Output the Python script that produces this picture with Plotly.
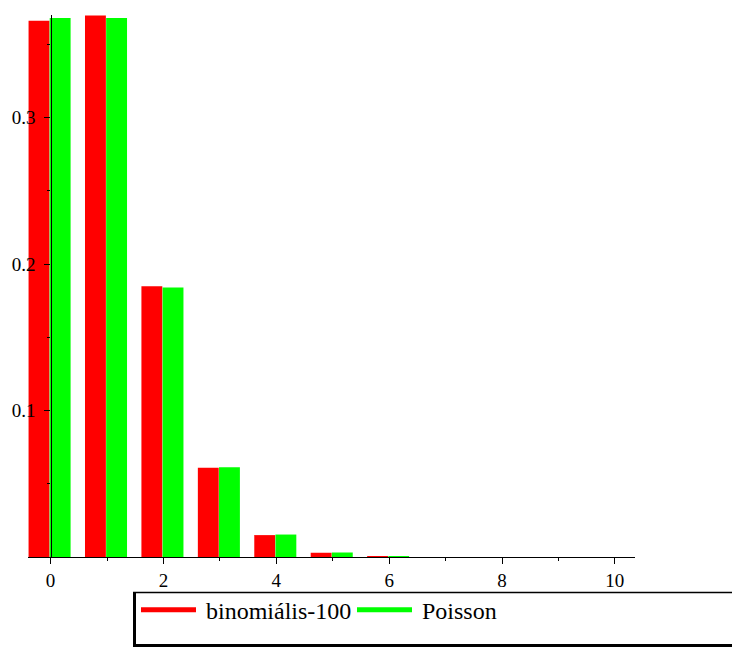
import plotly.graph_objects as go

# Probabilities of k successes: binomial (n=100, p=0.01) against Poisson (lambda=1)
k_values = [0, 1, 2, 3, 4, 5, 6, 7, 8, 9, 10]
binomial_100 = [0.36603, 0.36973, 0.18486, 0.06100, 0.01494, 0.00290,
                0.00046, 0, 0, 0, 0]
poisson = [0.36788, 0.36788, 0.18394, 0.06131, 0.01533, 0.00307,
           0.00051, 0, 0, 0, 0]
x_tick_vals = [0, 2, 4, 6, 8, 10]
y_tick_vals = [0.1, 0.2, 0.3]
y_tick_text = ["0.1", "0.2", "0.3"]
series_names = ["binomiális-100", "Poisson"]
series_colors = ["#ff0000", "#00ff00"]

W, H = 732, 648
L, R, T, B = 28, 97, 15, 91
PW, PH = W - L - R, H - T - B
X_RANGE = [-0.40, 10.357]
Y_RANGE = [0, 0.37]
SERIF = "Liberation Serif"


def fx(px):
    return (px - L) / PW


def fy(py):
    return 1 - (py - T) / PH


fig = go.Figure()
fig.add_trace(go.Bar(x=k_values, y=binomial_100, name=series_names[0],
                     marker=dict(color=series_colors[0], line=dict(width=0)),
                     offset=-0.39, width=0.37))
fig.add_trace(go.Bar(x=k_values, y=poisson, name=series_names[1],
                     marker=dict(color=series_colors[1], line=dict(width=0)),
                     offset=-0.015, width=0.37))

# y axis crosses the x axis at x = 0
y_axis_pos = (0 - X_RANGE[0]) / (X_RANGE[1] - X_RANGE[0])

fig.update_layout(
    width=W, height=H,
    margin=dict(l=L, r=R, t=T, b=B, pad=0),
    paper_bgcolor="white", plot_bgcolor="white",
    showlegend=False,
    barmode="overlay",
    font=dict(family=SERIF, size=19, color="black"),
    xaxis=dict(range=X_RANGE, tickvals=x_tick_vals, showgrid=False, zeroline=False,
               showline=True, linecolor="black", linewidth=1.3,
               ticks="outside", ticklen=6, tickwidth=1, tickcolor="black",
               minor=dict(dtick=1, tick0=1, ticks="outside", ticklen=3,
                          tickcolor="black", tickwidth=1),
               tickfont=dict(family=SERIF, size=19, color="black")),
    yaxis=dict(range=Y_RANGE, tickvals=y_tick_vals, ticktext=y_tick_text,
               anchor="free", position=y_axis_pos,
               showgrid=False, zeroline=False,
               showline=True, linecolor="black", linewidth=1.3,
               ticks="outside", ticklen=6, tickwidth=1, tickcolor="black",
               ticklabelstandoff=5,
               minor=dict(dtick=0.05, tick0=0.05, ticks="outside", ticklen=3,
                          tickcolor="black", tickwidth=1),
               tickfont=dict(family=SERIF, size=19, color="black")),
)

# Legend box with a heavier left and bottom edge
shapes = [
    dict(type="line", xref="paper", yref="paper",
         x0=fx(133), x1=fx(745), y0=fy(592.5), y1=fy(592.5),
         line=dict(color="black", width=1.5)),
    dict(type="line", xref="paper", yref="paper",
         x0=fx(134.5), x1=fx(134.5), y0=fy(592), y1=fy(647),
         line=dict(color="black", width=3)),
    dict(type="line", xref="paper", yref="paper",
         x0=fx(133), x1=fx(745), y0=fy(645.5), y1=fy(645.5),
         line=dict(color="black", width=3)),
]
swatches = [(141, 196), (357, 412)]
text_x = [204, 420]
annotations = []
for (sx0, sx1), tx, name, color in zip(swatches, text_x, series_names, series_colors):
    shapes.append(dict(type="line", xref="paper", yref="paper",
                       x0=fx(sx0), x1=fx(sx1), y0=fy(609.7), y1=fy(609.7),
                       line=dict(color=color, width=5)))
    annotations.append(dict(text=name, xref="paper", yref="paper",
                            x=fx(tx), y=fy(611), xanchor="left", yanchor="middle",
                            showarrow=False,
                            font=dict(family=SERIF, size=24, color="black")))

fig.update_layout(shapes=shapes, annotations=annotations)

fig.write_html("out.html")
